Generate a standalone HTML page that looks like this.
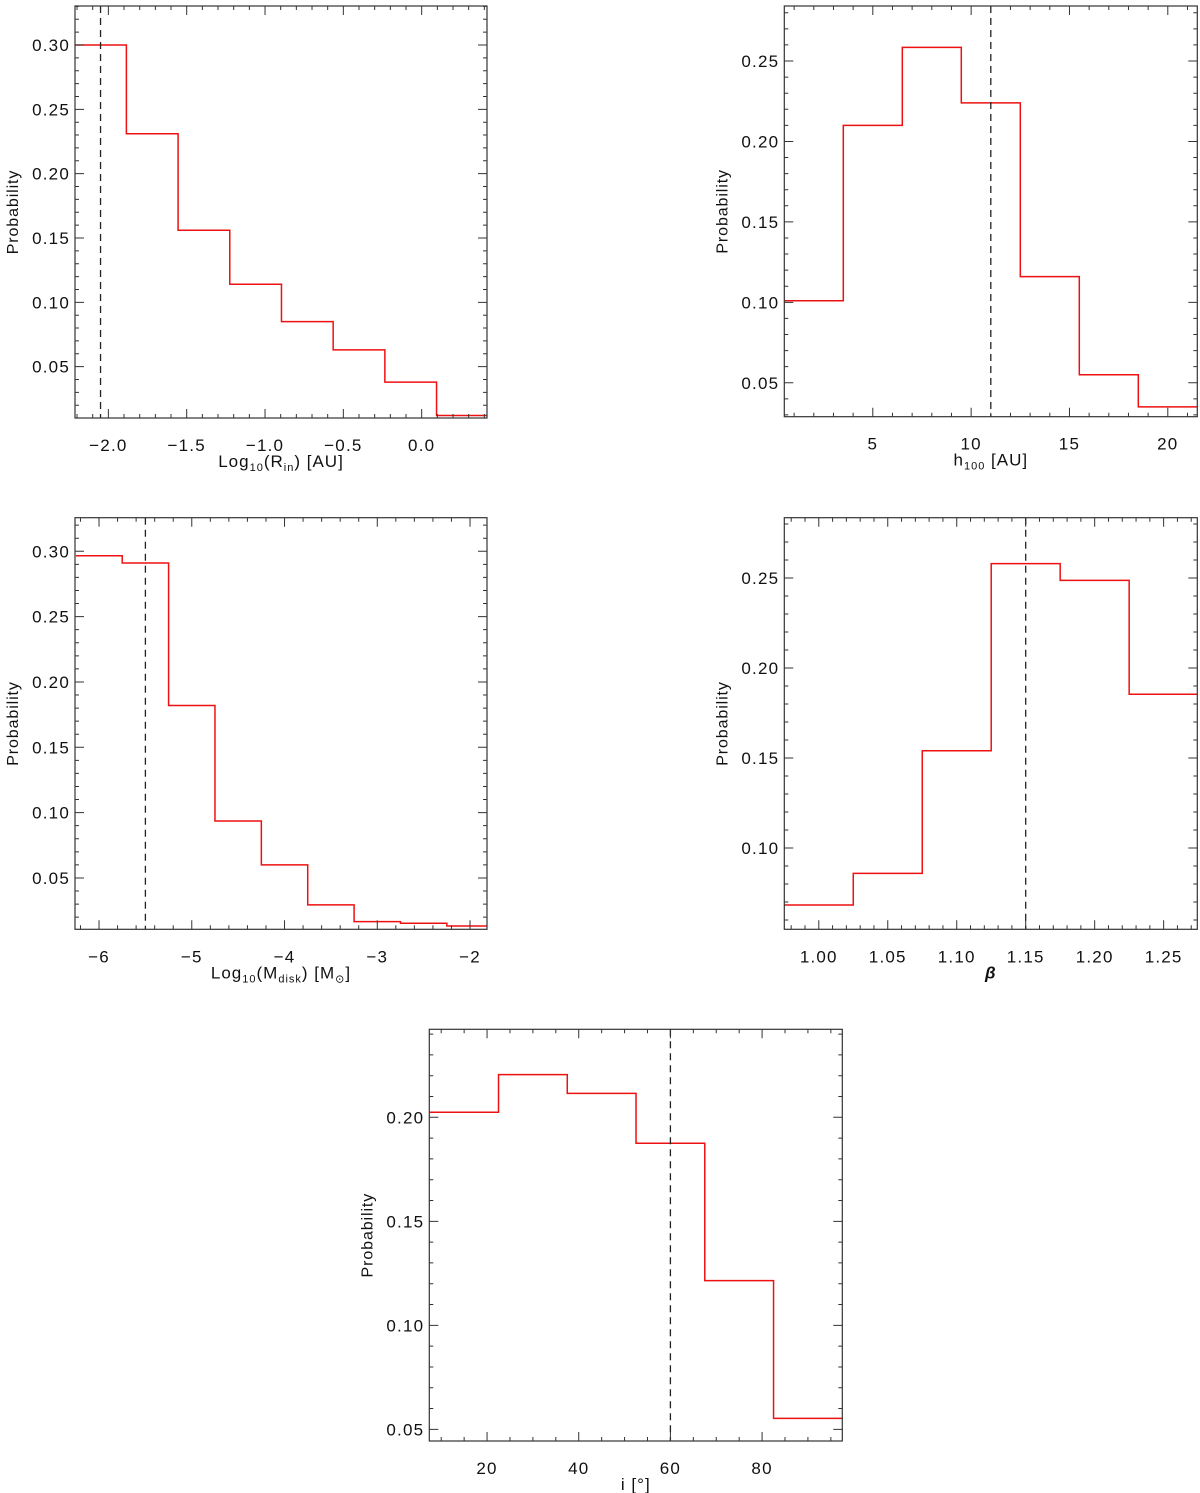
<!DOCTYPE html>
<html><head><meta charset="utf-8"><style>
body{margin:0;background:#fff;}
svg{display:block;font-family:"Liberation Sans","DejaVu Sans",sans-serif;}
</style></head><body>
<svg id="fig" width="1200" height="1493" viewBox="0 0 1200 1493" xmlns="http://www.w3.org/2000/svg"></svg>
<script>
// Panel 1: Log10(R_in)
const p1Edges=[-2.215,-1.885,-1.555,-1.225,-0.895,-0.565,-0.235,0.095,0.425];
const p1Values=[0.300,0.231,0.156,0.114,0.085,0.063,0.038,0.012];
const p1XTicks=[-2.0,-1.5,-1.0,-0.5,0.0];
const p1YTicks=[0.05,0.10,0.15,0.20,0.25,0.30];
const p1Best=-2.05;
// Panel 2: h100
const p2Edges=[0.5,3.5,6.5,9.5,12.5,15.5,18.5,21.5];
const p2Values=[0.101,0.210,0.2585,0.224,0.116,0.055,0.035];
const p2XTicks=[5,10,15,20];
const p2YTicks=[0.05,0.10,0.15,0.20,0.25];
const p2Best=11;
// Panel 3: Log10(M_disk)
const p3Edges=[-6.25,-5.75,-5.25,-4.75,-4.25,-3.75,-3.25,-2.75,-2.25,-1.75];
const p3Values=[0.2966,0.291,0.182,0.0936,0.060,0.0294,0.0166,0.0153,0.0132];
const p3XTicks=[-6,-5,-4,-3,-2];
const p3YTicks=[0.05,0.10,0.15,0.20,0.25,0.30];
const p3Best=-5.5;
// Panel 4: beta
const p4Edges=[0.975,1.025,1.075,1.125,1.175,1.225,1.275];
const p4Values=[0.0683,0.0859,0.154,0.258,0.2487,0.1854];
const p4XTicks=[1.00,1.05,1.10,1.15,1.20,1.25];
const p4YTicks=[0.10,0.15,0.20,0.25];
const p4Best=1.15;
// Panel 5: inclination
const p5Edges=[7.5,22.5,37.5,52.5,67.5,82.5,97.5];
const p5Values=[0.2024,0.2205,0.2115,0.1875,0.1215,0.0553];
const p5XTicks=[20,40,60,80];
const p5YTicks=[0.05,0.10,0.15,0.20];
const p5Best=60;

const NS="http://www.w3.org/2000/svg";
const svg=document.getElementById('fig');
function mk(tag,attrs,parent){const e=document.createElementNS(NS,tag);for(const k in attrs)e.setAttribute(k,attrs[k]);(parent||svg).appendChild(e);return e;}

function panel(cfg){
  const g=mk('g',{});
  
  
  const L=cfg.box[0],T=cfg.box[1],R=cfg.box[2],B=cfg.box[3];
  const sx=v=>L+(v-cfg.xlim[0])/(cfg.xlim[1]-cfg.xlim[0])*(R-L);
  const sy=v=>B-(v-cfg.ylim[0])/(cfg.ylim[1]-cfg.ylim[0])*(B-T);
  let d='';
  for(let i=0;i<cfg.values.length;i++){
    const x0=Math.max(L,sx(cfg.edges[i])),x1=Math.min(R,sx(cfg.edges[i+1])),y=sy(cfg.values[i]);
    d+=(i===0?'M':'L')+x0+','+y+'L'+x1+','+y;
  }
  const h=mk('path',{d:d,fill:'none',stroke:'#ee1111','stroke-width':1.5},g);
  
  
  const bl=mk('line',{x1:sx(cfg.best),x2:sx(cfg.best),y1:T,y2:B,stroke:'#222','stroke-width':1.3,'stroke-dasharray':'7,5'},g);
  
  
  const fr=mk('rect',{x:L,y:T,width:R-L,height:B-T,fill:'none',stroke:'#333','stroke-width':1.2},g);
  
  
  let tp='';
  const xs=cfg.xminor, ys=cfg.yminor;
  for(let v=Math.ceil(cfg.xlim[0]/xs-1e-6)*xs;v<=cfg.xlim[1]+1e-9;v+=xs){const x=sx(v);tp+=`M${x},${B}v-4M${x},${T}v4`;}
  for(let v=Math.ceil(cfg.ylim[0]/ys-1e-6)*ys;v<=cfg.ylim[1]+1e-9;v+=ys){const y=sy(v);tp+=`M${L},${y}h4M${R},${y}h-4`;}
  cfg.xticks.forEach(v=>{const x=sx(v);tp+=`M${x},${B}v-9M${x},${T}v9`;});
  cfg.yticks.forEach(v=>{const y=sy(v);tp+=`M${L},${y}h9M${R},${y}h-9`;});
  const tk=mk('path',{d:tp,stroke:'#333','stroke-width':1,fill:'none'},g);
  
  
  cfg.xticks.forEach(v=>{
    const t=mk('text',{x:sx(v),y:B+33,'text-anchor':'middle','font-size':17,'letter-spacing':1.2,fill:'#111'},g);
    t.textContent=(v<0?'\u2212':'')+Math.abs(v).toFixed(cfg.xdec);
    
    
  });
  cfg.yticks.forEach(v=>{
    const t=mk('text',{x:L-5,y:sy(v)+6,'text-anchor':'end','font-size':17,'letter-spacing':1.2,fill:'#111'},g);
    t.textContent=v.toFixed(2);
    
    
  });
  const yt=mk('text',{x:0,y:0,transform:`translate(${L-57},${(T+B)/2}) rotate(-90)`,'text-anchor':'middle','font-size':16,'letter-spacing':0.9,fill:'#111'},g);
  yt.textContent='Probability';
  
  
  const xt=mk('text',{x:(L+R)/2,y:B+49,'text-anchor':'middle','font-size':17,'letter-spacing':1,fill:'#111'},g);
  xt.innerHTML=cfg.xtitle;
  
  
}

panel({name:'panel-rin',box:[75,6,487,418],xlim:[-2.213,0.417],ylim:[0.0101,0.3303],edges:p1Edges,values:p1Values,xticks:p1XTicks,yticks:p1YTicks,best:p1Best,xminor:0.1,yminor:0.01,xdec:1,
 xtitle:'Log<tspan font-size="11" dy="4">10</tspan><tspan dy="-4">(R</tspan><tspan font-size="11" dy="4">in</tspan><tspan dy="-4">)  [AU]</tspan>'});
panel({name:'panel-h100',box:[784.3,6,1197.3,416.7],xlim:[0.5,21.5],ylim:[0.0289,0.2842],edges:p2Edges,values:p2Values,xticks:p2XTicks,yticks:p2YTicks,best:p2Best,xminor:1,yminor:0.01,xdec:0,
 xtitle:'h<tspan font-size="11" dy="4">100</tspan><tspan dy="-4">  [AU]</tspan>'});
panel({name:'panel-mdisk',box:[75,517.7,487,929.3],xlim:[-6.259,-1.817],ylim:[0.0107,0.3257],edges:p3Edges,values:p3Values,xticks:p3XTicks,yticks:p3YTicks,best:p3Best,xminor:0.2,yminor:0.01,xdec:0,
 xtitle:'Log<tspan font-size="11" dy="4">10</tspan><tspan dy="-4">(M</tspan><tspan font-size="11" dy="4">disk</tspan><tspan dy="-4">)  [M</tspan><tspan font-size="11" dy="4">\u2299</tspan><tspan dy="-4">]</tspan>'});
panel({name:'panel-beta',box:[784.3,517.7,1197.3,929.3],xlim:[0.975,1.2744],ylim:[0.0548,0.2835],edges:p4Edges,values:p4Values,xticks:p4XTicks,yticks:p4YTicks,best:p4Best,xminor:0.01,yminor:0.01,xdec:2,
 xtitle:'<tspan font-style="italic" font-weight="bold">\u03b2</tspan>'});
panel({name:'panel-inclination',box:[429.3,1029.3,842.3,1441],xlim:[7.4,97.5],ylim:[0.0444,0.2423],edges:p5Edges,values:p5Values,xticks:p5XTicks,yticks:p5YTicks,best:p5Best,xminor:5,yminor:0.01,xdec:0,
 xtitle:'i  [\u00b0]'});
</script>
</body></html>
